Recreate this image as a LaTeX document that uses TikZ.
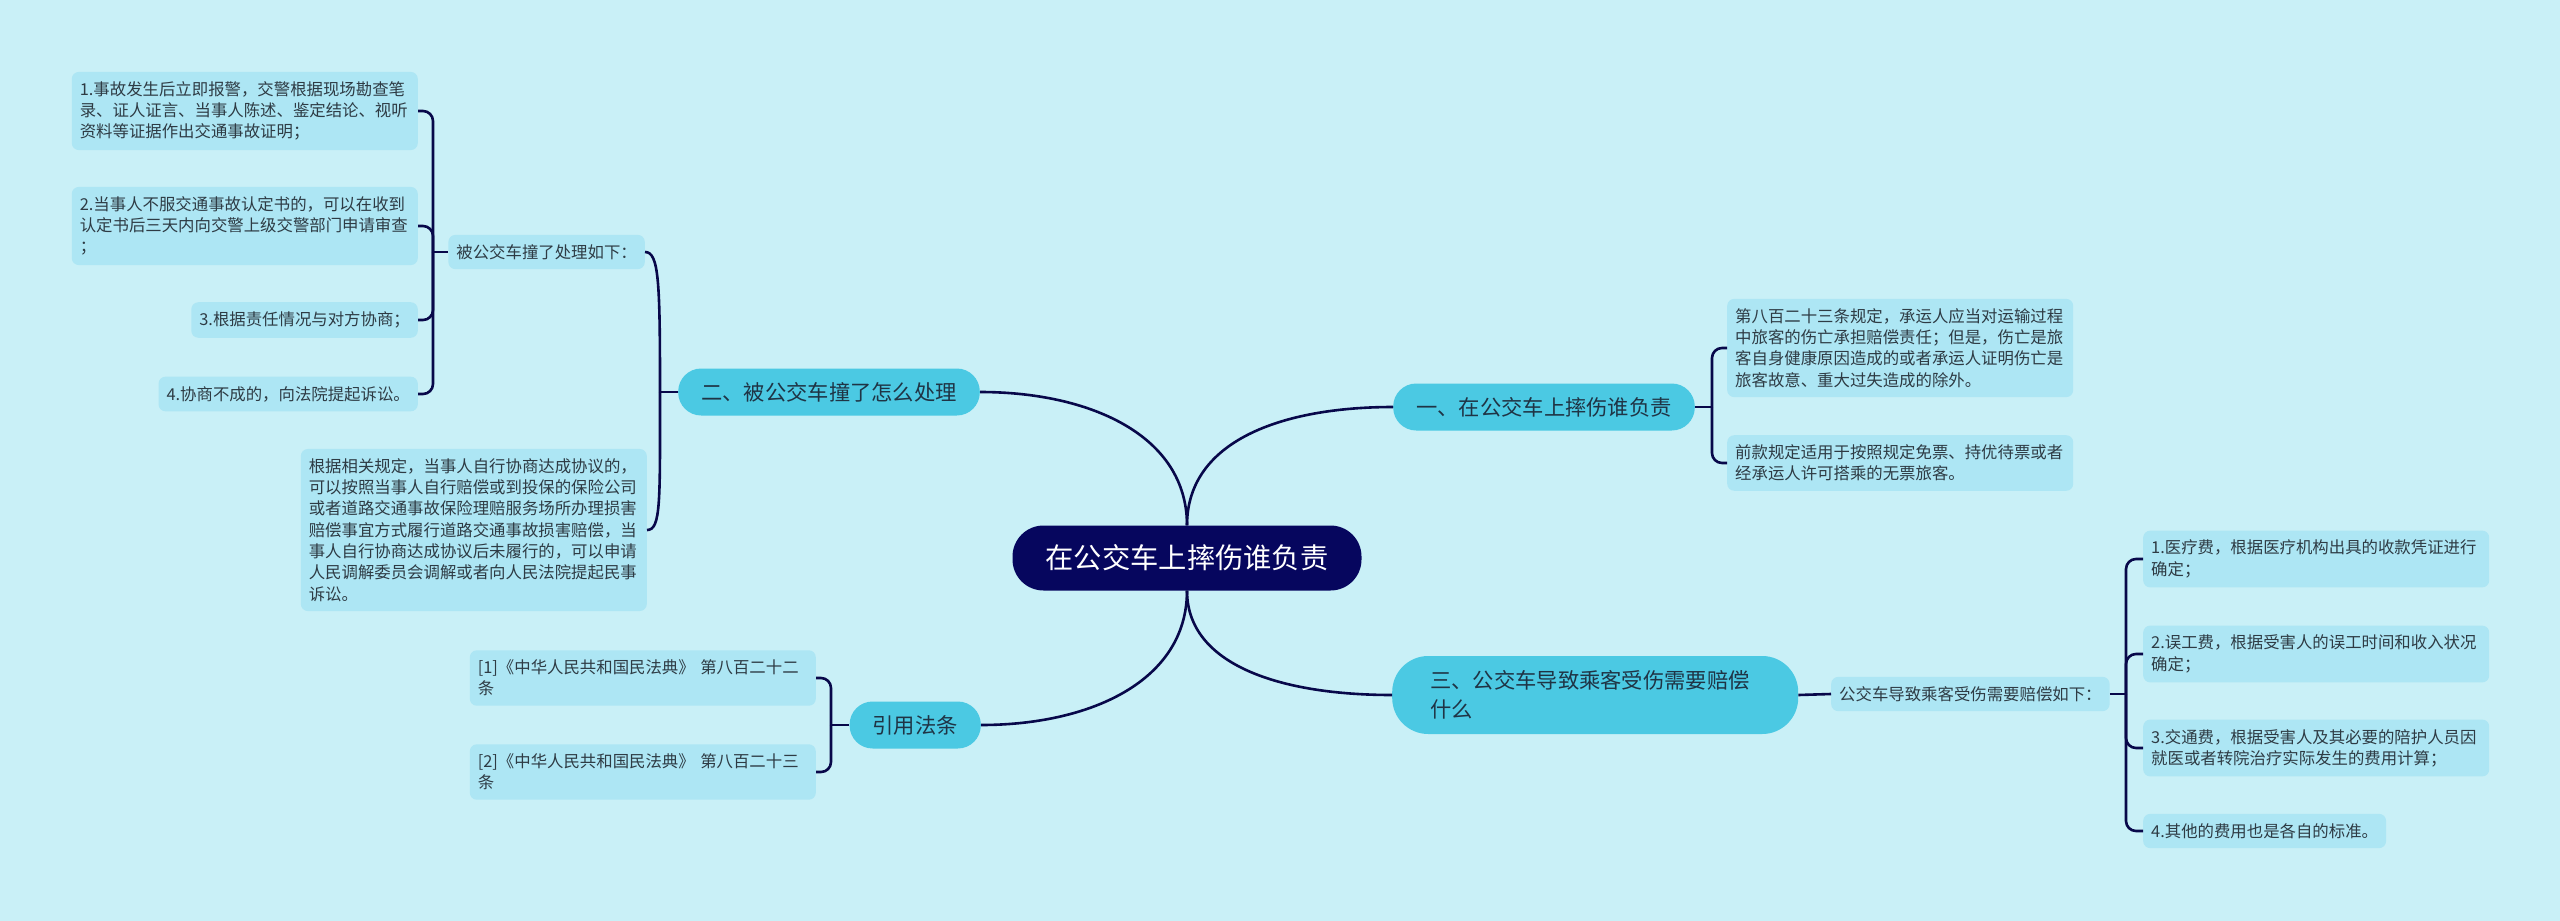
\documentclass[tikz,border=0pt]{standalone}
\usepackage{fontspec}
\setmainfont{Noto Sans CJK SC}
\usetikzlibrary{positioning}
\definecolor{bgc}{HTML}{C9F0F7}
\definecolor{rootc}{HTML}{06065E}
\definecolor{topicc}{HTML}{4BC9E3}
\definecolor{leafc}{HTML}{ADE6F4}
\definecolor{linkc}{HTML}{08084A}
\definecolor{topictext}{HTML}{1F3445}
\definecolor{leaftext}{HTML}{2E3B44}
\tikzset{
  link/.style={draw=linkc, line width=2.6pt},
  brace/.style={link, rounded corners=10pt},
  root/.style={fill=rootc, text=white, rounded corners=31pt, minimum height=65pt, inner xsep=33pt, inner ysep=0pt, font=\fontsize{28.3}{34}\selectfont},
  topic/.style={fill=topicc, text=topictext, rounded corners=23pt, minimum height=47pt, inner xsep=23pt, inner ysep=0pt, font=\fontsize{21.3}{29}\selectfont},
  leaf/.style={fill=leafc, text=leaftext, rounded corners=7pt, inner xsep=8pt, inner ysep=9.5pt, align=left, font=\fontsize{16.4}{21.3}\selectfont},
  wide/.style={leaf, text width=330pt}
}
\begin{document}
\begin{tikzpicture}[x=1pt,y=-1pt]
  \fill[bgc] (0,0) rectangle (2560,921);
  \useasboundingbox (0,0) rectangle (2560,921);
  \node[root] (root) at (1187,558) {在公交车上摔伤谁负责};
  \node[topic,anchor=west] (one) at (1393,407) {一、在公交车上摔伤谁负责};
  \node[topic,anchor=east] (two) at (980,392) {二、被公交车撞了怎么处理};
  \node[topic,anchor=west,align=left,text width=330pt,inner xsep=38pt,minimum height=78pt,rounded corners=36pt] (three) at (1392,695) {三、公交车导致乘客受伤需要赔偿\\什么};
  \node[topic,anchor=east] (cite) at (981,725) {引用法条};
  \draw[link] (root.north) .. controls +(0,-90) and +(110,0) .. (two.east);
  \draw[link] (root.north) .. controls +(0,-85) and +(-110,0) .. (one.east -| one.west);
  \draw[link] (root.south) .. controls +(0,75) and +(-110,0) .. (three.west);
  \draw[link] (root.south) .. controls +(0,90) and +(110,0) .. (cite.east);
  % 一
  \node[wide,anchor=west] (law) at (1727,348) {第八百二十三条规定，承运人应当对运输过程\\中旅客的伤亡承担赔偿责任；但是，伤亡是旅\\客自身健康原因造成的或者承运人证明伤亡是\\旅客故意、重大过失造成的除外。};
  \node[wide,anchor=west] (free) at (1727,463) {前款规定适用于按照规定免票、持优待票或者\\经承运人许可搭乘的无票旅客。};
  \coordinate (j1) at (1712,407);
  \draw[link] (one.east) -- (j1);
  \draw[brace] (j1) |- (law.west);
  \draw[brace] (j1) |- (free.west);
  % 二
  \node[leaf,anchor=east] (steps) at (645,252) {被公交车撞了处理如下：};
  \node[wide,anchor=east] (deal) at (647,530) {根据相关规定，当事人自行协商达成协议的，\\可以按照当事人自行赔偿或到投保的保险公司\\或者道路交通事故保险理赔服务场所办理损害\\赔偿事宜方式履行道路交通事故损害赔偿，当\\事人自行协商达成协议后未履行的，可以申请\\人民调解委员会调解或者向人民法院提起民事\\诉讼。};
  \coordinate (j2) at (660,392);
  \draw[link] (two.west) -- (j2);
  \draw[link] (j2) .. controls +(0,-110) and +(14,0) .. (steps.east);
  \draw[link] (j2) .. controls +(0,110) and +(14,0) .. (deal.east);
  \node[wide,anchor=east] (s1) at (418,111) {1.事故发生后立即报警，交警根据现场勘查笔\\录、证人证言、当事人陈述、鉴定结论、视听\\资料等证据作出交通事故证明；};
  \node[wide,anchor=east] (s2) at (418,226) {2.当事人不服交通事故认定书的，可以在收到\\认定书后三天内向交警上级交警部门申请审查\\；};
  \node[leaf,anchor=east] (s3) at (418,320) {3.根据责任情况与对方协商；};
  \node[leaf,anchor=east] (s4) at (418,394) {4.协商不成的，向法院提起诉讼。};
  \coordinate (j6) at (433,252);
  \draw[link] (steps.west) -- (j6);
  \foreach \s in {s1,s2,s3,s4}{\draw[brace] (j6) |- (\s.east);}
  % 引用法条
  \node[wide,anchor=east] (art1) at (816,678) {[1]《中华人民共和国民法典》 第八百二十二\\条};
  \node[wide,anchor=east] (art2) at (816,772) {[2]《中华人民共和国民法典》 第八百二十三\\条};
  \coordinate (j3) at (831,725);
  \draw[link] (cite.west) -- (j3);
  \draw[brace] (j3) |- (art1.east);
  \draw[brace] (j3) |- (art2.east);
  % 三
  \node[leaf,anchor=west] (pay) at (1831,694) {公交车导致乘客受伤需要赔偿如下：};
  \draw[link] (three.east) -- (pay.west);
  \node[wide,anchor=west] (f1) at (2143,559) {1.医疗费，根据医疗机构出具的收款凭证进行\\确定；};
  \node[wide,anchor=west] (f2) at (2143,654) {2.误工费，根据受害人的误工时间和收入状况\\确定；};
  \node[wide,anchor=west] (f3) at (2143,748) {3.交通费，根据受害人及其必要的陪护人员因\\就医或者转院治疗实际发生的费用计算；};
  \node[leaf,anchor=west] (f4) at (2143,831) {4.其他的费用也是各自的标准。};
  \coordinate (j5) at (2126,694);
  \draw[link] (pay.east) -- (j5);
  \foreach \f in {f1,f2,f3,f4}{\draw[brace] (j5) |- (\f.west);}
\end{tikzpicture}
\end{document}
